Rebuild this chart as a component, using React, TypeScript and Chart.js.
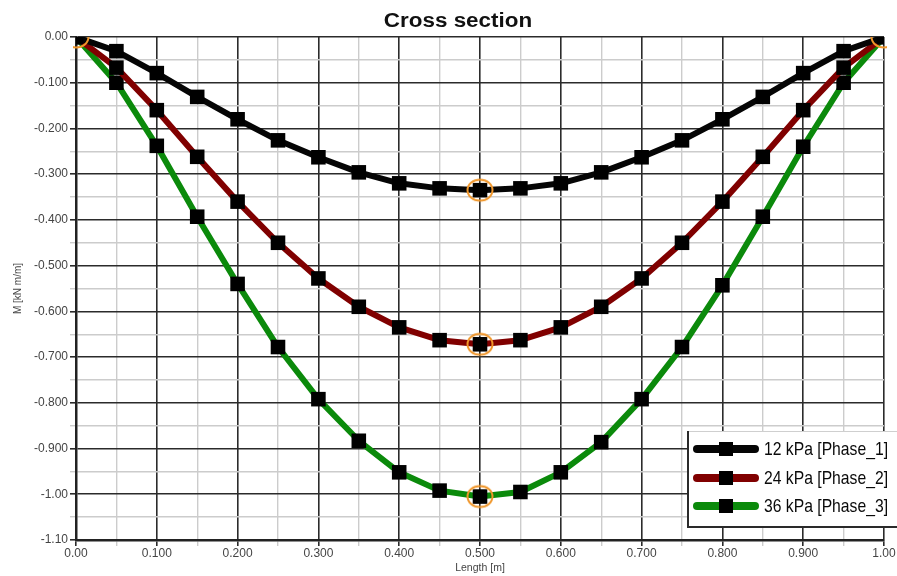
import React, { useEffect, useRef } from "react";
import { Chart, registerables } from "chart.js";

Chart.register(...registerables);

// Positions along the span [m]
const lengths = [
  0, 0.05, 0.1, 0.15, 0.2, 0.25, 0.3, 0.35, 0.4, 0.45, 0.5,
  0.55, 0.6, 0.65, 0.7, 0.75, 0.8, 0.85, 0.9, 0.95, 1.0,
];

// Bending moment M [kN m/m] per load phase
const phase1 = [
  0, -0.031, -0.079, -0.131, -0.18, -0.226, -0.263, -0.296, -0.32, -0.331, -0.335,
  -0.331, -0.32, -0.296, -0.263, -0.226, -0.18, -0.131, -0.079, -0.031, 0,
];
const phase2 = [
  0, -0.067, -0.16, -0.262, -0.36, -0.45, -0.528, -0.59, -0.635, -0.663, -0.672,
  -0.663, -0.635, -0.59, -0.528, -0.45, -0.36, -0.262, -0.16, -0.067, 0,
];
const phase3 = [
  0, -0.1, -0.238, -0.393, -0.54, -0.678, -0.792, -0.883, -0.952, -0.992, -1.005,
  -0.995, -0.952, -0.886, -0.792, -0.678, -0.543, -0.393, -0.24, -0.1, 0,
];

const seriesLabels = ["12 kPa [Phase_1]", "24 kPa [Phase_2]", "36 kPa [Phase_3]"];
const seriesColors = ["#050505", "#800000", "#0b8a0b"];

const chartTitle = "Cross section";
const xTitle = "Length [m]";
const yTitle = "M [kN m/m]";

const isMajor = (v: number) => Math.round(Math.abs(v) * 100) % 10 === 0;
const fmt = (v: number) => (Math.abs(v) < 1e-9 ? "0.00" : v.toPrecision(3));

function toPoints(ys: number[]) {
  return lengths.map((x, i) => ({ x, y: ys[i] }));
}

export default function App() {
  const ref = useRef<HTMLCanvasElement | null>(null);

  useEffect(() => {
    if (!ref.current) return;

    // Elliptical ring used to flag the supports and the mid-span extremes
    const ring = document.createElement("canvas");
    ring.width = 30;
    ring.height = 26;
    const rc = ring.getContext("2d")!;
    rc.strokeStyle = "#f0962a";
    rc.lineWidth = 2;
    rc.beginPath();
    rc.ellipse(15, 13, 12.5, 10.5, 0, 0, Math.PI * 2);
    rc.stroke();

    const mid = lengths.indexOf(0.5);
    const flagged = [
      { x: lengths[0], y: phase1[0] },
      { x: lengths[lengths.length - 1], y: phase1[phase1.length - 1] },
      { x: lengths[mid], y: phase1[mid] },
      { x: lengths[mid], y: phase2[mid] },
      { x: lengths[mid], y: phase3[mid] },
    ];

    const series = [phase1, phase2, phase3].map((ys, i) => ({
      label: seriesLabels[i],
      data: toPoints(ys),
      borderColor: seriesColors[i],
      backgroundColor: seriesColors[i],
      borderWidth: 6,
      borderJoinStyle: "round" as const,
      borderCapStyle: "round" as const,
      tension: 0,
      pointStyle: "rect" as const,
      pointRadius: 10.3,
      pointBackgroundColor: "#000",
      pointBorderWidth: 0,
      order: i,
    }));

    const titleLegend = {
      id: "titleLegend",
      afterDraw(chart: any) {
        const ctx = chart.ctx as CanvasRenderingContext2D;
        // title
        ctx.save();
        ctx.translate(458, 27);
        ctx.scale(1.15, 1);
        ctx.font = 'bold 19.5px "Liberation Sans", Arial, sans-serif';
        ctx.fillStyle = "#111";
        ctx.textAlign = "center";
        ctx.textBaseline = "alphabetic";
        ctx.fillText(chartTitle, 0, 0);
        ctx.restore();

        // legend box
        ctx.save();
        const bx = 688, by = 431, bw = 220, bh = 96;
        ctx.fillStyle = "#fff";
        ctx.fillRect(bx, by, bw, bh);
        ctx.strokeStyle = "#cfcfcf";
        ctx.lineWidth = 1;
        ctx.beginPath();
        ctx.moveTo(bx, by + 0.5);
        ctx.lineTo(bx + bw, by + 0.5);
        ctx.stroke();
        ctx.strokeStyle = "#2a2a2a";
        ctx.lineWidth = 2;
        ctx.beginPath();
        ctx.moveTo(bx, by);
        ctx.lineTo(bx, by + bh);
        ctx.lineTo(bx + bw, by + bh);
        ctx.stroke();

        const rows = [449, 478, 506];
        rows.forEach((ry, i) => {
          ctx.strokeStyle = seriesColors[i];
          ctx.lineWidth = 8;
          ctx.lineCap = "round";
          ctx.beginPath();
          ctx.moveTo(697, ry);
          ctx.lineTo(755, ry);
          ctx.stroke();
          ctx.fillStyle = "#000";
          ctx.fillRect(719, ry - 7, 14, 14);
          ctx.fillStyle = "#0a0a0a";
          ctx.font = '18.5px "Liberation Sans", Arial, sans-serif';
          ctx.textAlign = "left";
          ctx.textBaseline = "middle";
          ctx.fillText(seriesLabels[i], 764, ry + 1, 124);
        });
        ctx.restore();
      },
    };

    const gridColor = (c: any) => (isMajor(c.tick?.value ?? 0) ? "#2b2b2b" : "#cccccc");
    const gridWidth = (c: any) => (isMajor(c.tick?.value ?? 0) ? 1.6 : 1.4);
    const tickFont = { family: '"Liberation Sans", Arial, sans-serif', size: 12 };

    const chart = new Chart(ref.current, {
      type: "line",
      data: {
        datasets: [
          {
            label: "flag",
            data: flagged,
            showLine: false,
            pointStyle: ring as any,
            pointRadius: 12,
            order: -1,
            clip: { left: 3, top: 0, right: 3, bottom: 0 } as any,
          } as any,
          ...series,
        ],
      },
      options: {
        animation: false,
        responsive: false,
        layout: { padding: { top: 37, right: 13, left: 0, bottom: 0 } },
        plugins: {
          legend: { display: false },
          title: { display: false },
          tooltip: { enabled: false },
        },
        scales: {
          x: {
            type: "linear",
            min: 0,
            max: 1,
            afterFit: (s: any) => {
              s.height = 36;
            },
            ticks: {
              stepSize: 0.05,
              autoSkip: false,
              maxRotation: 0,
              padding: 0,
              color: "#444",
              font: tickFont,
              callback: (v: any) => (isMajor(Number(v)) ? fmt(Number(v)) : ""),
            },
            grid: {
              color: gridColor,
              lineWidth: gridWidth,
              tickColor: gridColor,
              tickLength: 6,
            },
            border: { color: "#222", width: 2.5 },
            title: {
              display: true,
              text: xTitle,
              color: "#444",
              padding: { top: 0, bottom: 2 },
              font: { family: '"Liberation Sans", Arial, sans-serif', size: 10.5 },
            },
          },
          y: {
            type: "linear",
            min: -1.1,
            max: 0,
            afterFit: (s: any) => {
              s.width = 76;
            },
            ticks: {
              stepSize: 0.05,
              autoSkip: false,
              padding: 2,
              color: "#444",
              font: tickFont,
              callback: (v: any) => (isMajor(Number(v)) ? fmt(Number(v)) : ""),
            },
            grid: {
              color: gridColor,
              lineWidth: gridWidth,
              tickColor: gridColor,
              tickLength: 6,
            },
            border: { color: "#222", width: 2.5 },
            title: {
              display: true,
              text: yTitle,
              color: "#444",
              padding: { top: 12, bottom: 0 },
              font: { family: '"Liberation Sans", Arial, sans-serif', size: 10 },
            },
          },
        },
      },
      plugins: [titleLegend],
    });

    return () => chart.destroy();
  }, []);

  return (
    <div style={{ position: "fixed", left: 0, top: 0, width: 897, height: 576, background: "#fff" }}>
      <canvas ref={ref} width={897} height={576} />
    </div>
  );
}
